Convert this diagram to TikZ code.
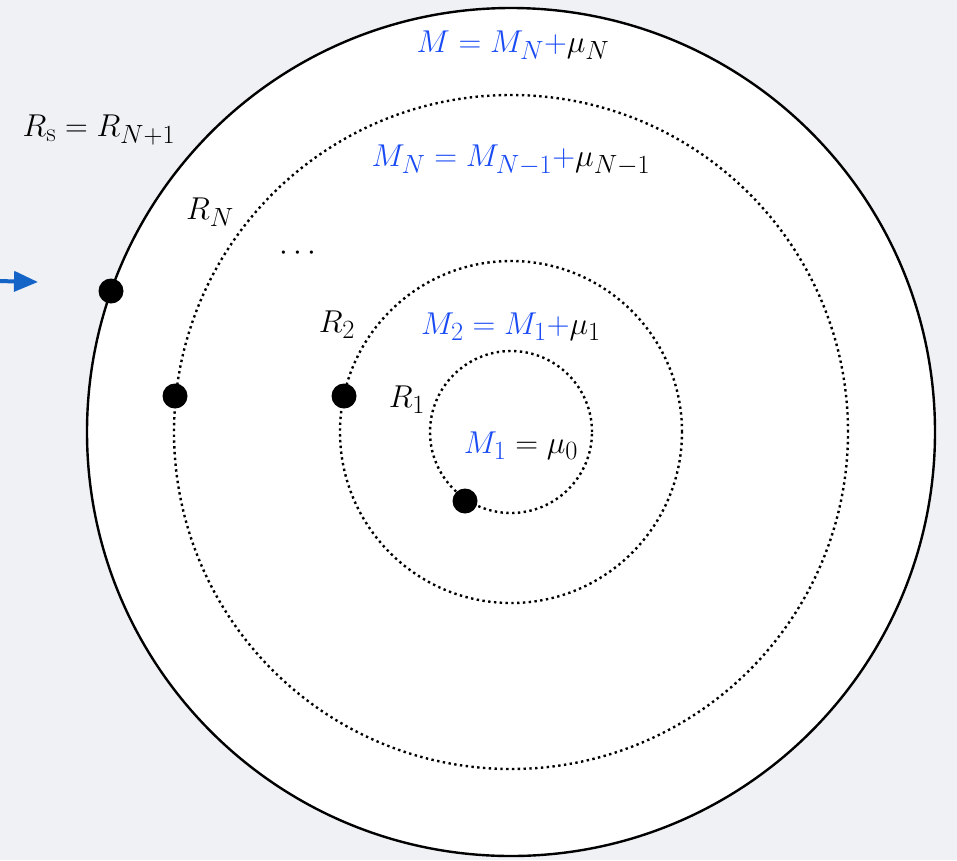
\documentclass[tikz,border=0pt]{standalone}
\usepackage{graphicx}
\usepackage{tikz}
\usetikzlibrary{arrows.meta}
\definecolor{bgc}{RGB}{239,241,244}
\definecolor{mblue}{RGB}{25,75,245}
\definecolor{arrblue}{RGB}{20,100,200}
\newcommand{\bigtxt}[1]{\scalebox{1.27}{\fontsize{24.88}{30}\selectfont #1}}
\tikzset{
  outer/.style={draw=black,line width=2.4pt,fill=white},
  shell/.style={draw=black,line width=2.4pt,dash pattern=on 2.4pt off 3.4pt},
  pt/.style={circle,fill=black,inner sep=0pt,minimum size=25pt},
  lbl/.style={inner sep=0pt},
}
\begin{document}
\begin{tikzpicture}[x=1pt,y=-1pt]
\fill[bgc] (0,0) rectangle (957,860);
\useasboundingbox (0,0) rectangle (957,860);
\coordinate (c) at (511,432);
\node[outer,circle,minimum size=848pt,inner sep=0pt] (big) at (c) {};
\node[shell,circle,minimum size=674pt,inner sep=0pt] (cN) at (c) {};
\node[shell,circle,minimum size=342pt,inner sep=0pt] (c2) at (c) {};
\node[shell,circle,minimum size=162pt,inner sep=0pt] (c1) at (c) {};
\node[pt] (d0) at (111,291) {};
\node[pt] (dN) at (175,396) {};
\node[pt] (d2) at (344,396) {};
\node[pt] (d1) at (465,501) {};
\coordinate (a0) at (-2,281);
\coordinate (a1) at (38,282);
\draw[arrblue,line width=4pt,-{Triangle[length=24pt,width=20pt]}] (a0) -- (a1);
\node[lbl] (lRs) at (99,130) {\bigtxt{$R_{\mathrm{s}} = R_{N+1}$}};
\node[lbl] (lRN) at (210,212) {\bigtxt{$R_N$}};
\node[lbl] (ldots) at (298,253) {\bigtxt{$\cdots$}};
\node[lbl] (lR2) at (337,325) {\bigtxt{$R_2$}};
\node[lbl] (lR1) at (407,400) {\bigtxt{$R_1$}};
\node[lbl] (lM) at (513,45) {\bigtxt{$\color{mblue}M = M_N{+}\color{black}\mu_N$}};
\node[lbl] (lMN) at (511,160) {\bigtxt{$\color{mblue}M_N = M_{N-1}{+}\color{black}\mu_{N-1}$}};
\node[lbl] (lM2) at (511,327) {\bigtxt{$\color{mblue}M_2 = M_1{+}\color{black}\mu_1$}};
\node[lbl] (lM1) at (521,446) {\bigtxt{$\color{mblue}M_1\color{black} = \mu_0$}};
\end{tikzpicture}
\end{document}
